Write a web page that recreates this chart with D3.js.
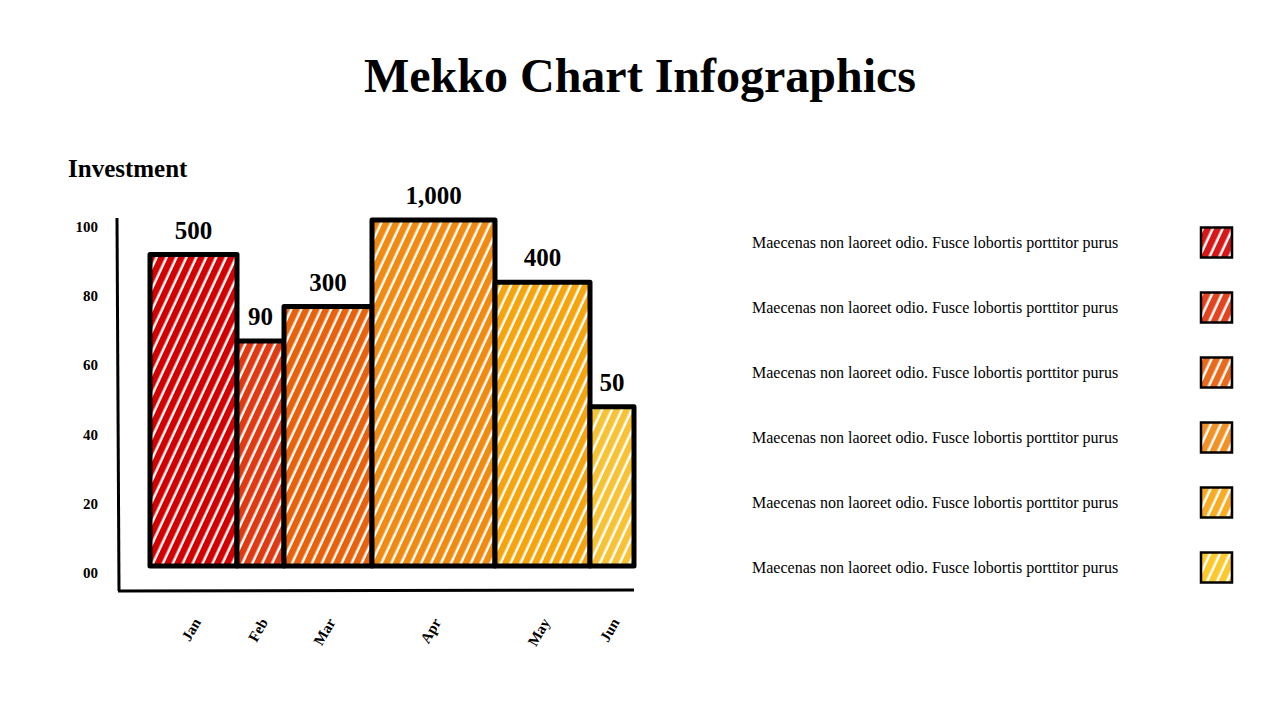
<!DOCTYPE html>
<html><head><meta charset="utf-8">
<script src="https://cdn.jsdelivr.net/npm/d3@7/dist/d3.min.js"></script>
<style>body{margin:0;background:#fff}</style></head>
<body><svg id="c" width="1280" height="720"></svg>
<script>
const months=["Jan","Feb","Mar","Apr","May","Jun"];
const heights=[90,65,75,100,82,46];
const widths=[87,47,88,123,95,44];
const valueLabels=["500","90","300","1,000","400","50"];
const colors=["#d20000","#df3a12","#e8620c","#f08a10","#f6a40c","#f8c235"];
const yTicks=[0,20,40,60,80,100];
const legendText="Maecenas non laoreet odio. Fusce lobortis porttitor purus";
const legendColors=["#d81818","#e24420","#ea6a1c","#f29226","#f8ac24","#fcc82c"];
const font="'Liberation Serif','DejaVu Serif',serif";
const svg=d3.select("#c");
const defs=svg.append("defs");
colors.concat(legendColors).forEach((c,i)=>{
  const p=defs.append("pattern").attr("id","p"+i).attr("patternUnits","userSpaceOnUse")
   .attr("width",9).attr("height",9).attr("patternTransform","rotate(25)");
  p.append("rect").attr("width",9).attr("height",9).attr("fill","#fff");
  p.append("rect").attr("width",6.5).attr("height",9).attr("fill",c);
});
svg.append("text").attr("x",640).attr("y",92).attr("text-anchor","middle")
 .attr("font-family",font).attr("font-weight","bold").attr("font-size",48).text("Mekko Chart Infographics");
svg.append("text").attr("x",68).attr("y",177).attr("font-family",font).attr("font-weight","bold").attr("font-size",25).text("Investment");
const y=d3.scaleLinear().domain([0,100]).range([566,220]);
const total=d3.sum(widths);
const x=d3.scaleLinear().domain([0,total]).range([150,634]);
let cum=0;const starts=widths.map(w=>{const s=cum;cum+=w;return s;});
svg.append("g").selectAll("text").data(yTicks).join("text")
 .attr("x",98).attr("y",d=>y(d)+12).attr("text-anchor","end")
 .attr("font-family",font).attr("font-weight","bold").attr("font-size",15)
 .text(d=>d===0?"00":d);
svg.append("line").attr("x1",117).attr("x2",119).attr("y1",218).attr("y2",591).attr("stroke","#000").attr("stroke-width",3);
svg.append("line").attr("x1",118).attr("x2",634).attr("y1",591).attr("y2",590).attr("stroke","#000").attr("stroke-width",3);
const g=svg.append("g");
months.forEach((m,i)=>{
  const x0=x(starts[i]),x1=x(starts[i]+widths[i]);
  g.append("rect").attr("x",x0).attr("y",y(heights[i])).attr("width",x1-x0).attr("height",y(0)-y(heights[i]))
   .attr("fill","url(#p"+i+")").attr("stroke","#000").attr("stroke-width",5).attr("stroke-linejoin","round");
  g.append("text").attr("x",(x0+x1)/2).attr("y",y(heights[i])-16).attr("text-anchor","middle")
   .attr("font-family",font).attr("font-weight","bold").attr("font-size",25).text(valueLabels[i]);
  g.append("text").attr("transform",`translate(${(x0+x1)/2+8},${622}) rotate(-60)`).attr("text-anchor","end")
   .attr("font-family",font).attr("font-weight","bold").attr("font-size",15).text(m);
});
const ly=d3.scaleBand().domain(d3.range(6)).range([210,600]);
const lg=svg.append("g");
legendColors.forEach((c,i)=>{
  const cy=ly(i)+ly.bandwidth()/2;
  lg.append("text").attr("x",752).attr("y",cy+5).attr("font-family",font).attr("font-size",16).text(legendText);
  lg.append("rect").attr("x",1201).attr("y",cy-15).attr("width",31).attr("height",30)
   .attr("fill","url(#p"+(6+i)+")").attr("stroke","#000").attr("stroke-width",2.5);
});
</script></body></html>
